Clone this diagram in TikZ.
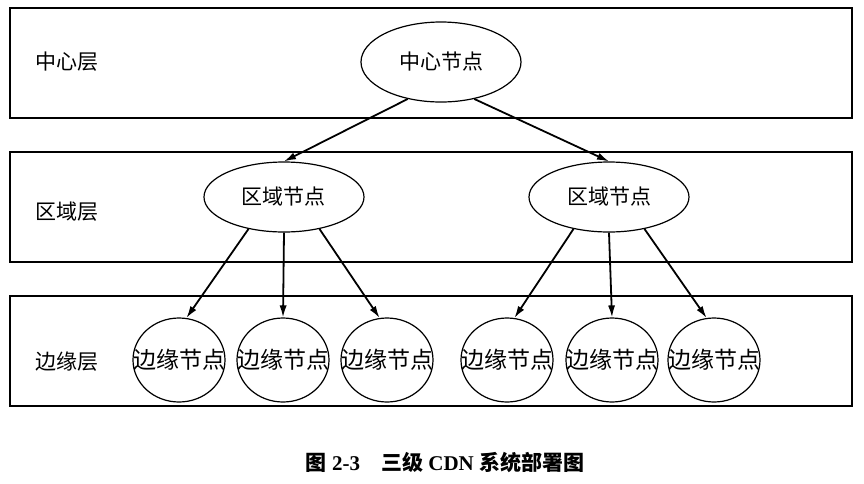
\documentclass[tikz,border=0pt]{standalone}
\usepackage{fontspec}
\setmainfont{Liberation Serif}
\newfontfamily\cjk{Noto Sans CJK SC}
\usetikzlibrary{shapes.geometric, arrows.meta}

\begin{document}
\begin{tikzpicture}[x=0.5pt, y=-0.5pt,
    every node/.style={font=\cjk\fontsize{10.5}{12}\selectfont},
    layerbox/.style={draw, line width=0.8pt, minimum width=421pt, minimum height=55pt, inner sep=0pt},
    centernode/.style={draw, ellipse, line width=0.6pt, minimum width=80pt, minimum height=40pt, inner sep=0pt},
    regionnode/.style={draw, ellipse, line width=0.6pt, minimum width=80pt, minimum height=35pt, inner sep=0pt},
    edgenode/.style={draw, ellipse, line width=0.6pt, minimum width=46pt, minimum height=42pt, inner sep=0pt,
                     font=\cjk\fontsize{11.5}{12}\selectfont},
    link/.style={line width=0.9pt, -{Latex[length=6pt,width=3.6pt]}}]
    \useasboundingbox (0, 0) rectangle (864, 483);
    % three layers
    \node[layerbox] (layer1) at (431, 63) {};
    \node[layerbox] (layer2) at (431, 207) {};
    \node[layerbox] (layer3) at (431, 351) {};
    \node (lab1) at (67, 62) {中心层};
    \node (lab2) at (67, 212) {区域层};
    \node (lab3) at (67, 362) {边缘层};
    % nodes
    \node[centernode] (center) at (441, 62) {中心节点};
    \node[regionnode] (reg1) at (284, 197) {区域节点};
    \node[regionnode] (reg2) at (609, 197) {区域节点};
    \node[edgenode] (e1) at (179, 360) {\makebox[0pt]{边缘节点}};
    \node[edgenode] (e2) at (283, 360) {\makebox[0pt]{边缘节点}};
    \node[edgenode] (e3) at (387, 360) {\makebox[0pt]{边缘节点}};
    \node[edgenode] (e4) at (507, 360) {\makebox[0pt]{边缘节点}};
    \node[edgenode] (e5) at (612, 360) {\makebox[0pt]{边缘节点}};
    \node[edgenode] (e6) at (714, 360) {\makebox[0pt]{边缘节点}};
    % links
    \draw[link] (center.228) -- (reg1.north);
    \draw[link] (center.312) -- (reg2.north);
    \draw[link] (reg1.222) -- (e1.80);
    \draw[link] (reg1.south) -- (e2.north);
    \draw[link] (reg1.318) -- (e3.100);
    \draw[link] (reg2.222) -- (e4.80);
    \draw[link] (reg2.south) -- (e5.north);
    \draw[link] (reg2.318) -- (e6.100);
    % caption
    \node[font=\bfseries\fontsize{10.5}{12}\selectfont] (caption) at (445, 462)
        {{\cjk 图} 2-3\quad {\cjk 三级} CDN {\cjk 系统部署图}};
\end{tikzpicture}
\end{document}
